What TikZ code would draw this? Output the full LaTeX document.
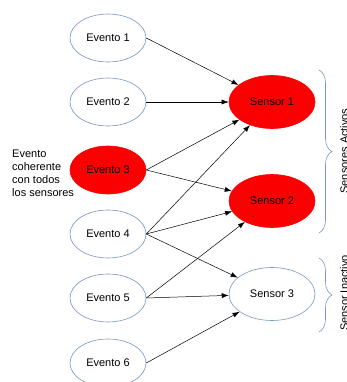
\documentclass[tikz,border=0pt]{standalone}
\usepackage{fontspec}
\setmainfont{Liberation Sans}
\usetikzlibrary{shapes.geometric,arrows.meta,decorations.pathreplacing}
\definecolor{eblue}{RGB}{120,150,190}
\definecolor{ered}{RGB}{250,0,0}
\tikzset{
  evento/.style={ellipse,draw=eblue,line width=0.6pt,minimum width=76pt,minimum height=48pt,inner sep=0pt,font=\fontsize{11}{13}\selectfont},
  sensor/.style={ellipse,draw=eblue,line width=0.6pt,minimum width=86pt,minimum height=53pt,inner sep=0pt,font=\fontsize{11}{13}\selectfont},
  active/.style={fill=ered,draw=ered},
  conn/.style={line width=0.5pt,-{Latex[length=7pt,width=5pt]}},
  bracestyle/.style={draw=eblue,line width=0.6pt,decorate,decoration={brace,amplitude=13pt}},
  sidelabel/.style={rotate=90,anchor=base,inner sep=0pt,font=\fontsize{11}{13}\selectfont}
}
\begin{document}
\begin{tikzpicture}[x=1pt,y=-1pt]
\useasboundingbox (0,0) rectangle (347,382);
\node[evento] (e1) at (108,38) {Evento 1};
\node[evento] (e2) at (108,102) {Evento 2};
\node[evento,active] (e3) at (108,170) {Evento 3};
\node[evento] (e4) at (108,234) {Evento 4};
\node[evento] (e5) at (108,298) {Evento 5};
\node[evento] (e6) at (108,363) {Evento 6};
\node[sensor,active] (s1) at (272,102) {Sensor 1};
\node[sensor,active] (s2) at (272,201) {Sensor 2};
\node[sensor] (s3) at (272,294) {Sensor 3};
\node[anchor=west,align=left,inner sep=0pt,font=\fontsize{11}{13}\selectfont] (note) at (12,173) {Evento\\coherente\\con todos\\los sensores};
\draw[conn] (e1.east) -- (s1);
\draw[conn] (e2.east) -- (s1);
\draw[conn] (e3.east) -- (s1);
\draw[conn] (e3.east) -- (s2);
\draw[conn] (e4.east) -- (s1);
\draw[conn] (e4.east) -- (s2);
\draw[conn] (e4.east) -- (s3);
\draw[conn] (e5.east) -- (s2);
\draw[conn] (e5.east) -- (s3);
\draw[conn] (e6.east) -- (s3);
\coordinate (b1t) at (319,70);
\coordinate (b1b) at (319,233);
\coordinate (b2t) at (319,258);
\coordinate (b2b) at (319,332);
\draw[bracestyle] (b1t) -- (b1b);
\draw[bracestyle] (b2t) -- (b2b);
\node[sidelabel] (l1) at (348,151) {Sensores Activos};
\node[sidelabel] (l2) at (348,293) {Sensor Inactivo};
\end{tikzpicture}
\end{document}
